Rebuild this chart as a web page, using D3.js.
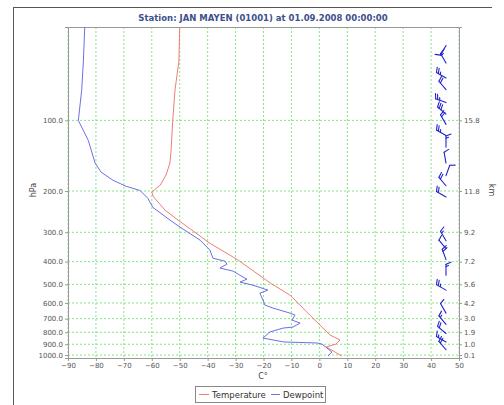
<!DOCTYPE html>
<html><head><meta charset="utf-8">
<script src="https://cdn.jsdelivr.net/npm/d3@7"></script>
<style>html,body{margin:0;padding:0;background:#fff;}svg{display:block;font-family:"DejaVu Sans",sans-serif;}</style>
</head><body>
<script>
const title = "Station: JAN MAYEN (01001) at 01.09.2008 00:00:00";
const pressureTicks = [100, 200, 300, 400, 500, 600, 700, 800, 900, 1000];
const heightLabels = ["15.8", "11.8", "9.2", "7.2", "5.6", "4.2", "3.0", "1.9", "1.0", "0.1"];
const tempTicks = [-90, -80, -70, -60, -50, -40, -30, -20, -10, 0, 10, 20, 30, 40, 50];

const tempP = [40, 56, 74.5, 100, 134, 152, 171, 189, 202, 211, 241, 266, 334, 394, 494, 556, 613, 676, 745, 822, 863, 898, 925, 962, 1010];
const tempT = [-50, -50.3, -51.7, -52.5, -53.1, -53.5, -54.9, -57, -60, -59.5, -55.3, -50.6, -39.2, -29.1, -17.5, -10.5, -6.9, -3.4, 0.2, 3.8, 7.4, 6, 2.5, 5, 8];

const dewP = [40, 56, 74.5, 100, 122, 152, 166, 180, 191, 199, 215, 235, 266, 285, 324, 357, 387, 398, 410, 426, 439, 452, 466, 475, 489, 504, 529, 545, 583, 613, 631, 663, 676, 710, 731, 760, 768, 798, 847, 880, 889, 898, 934, 971, 1010];
const dewT = [-84, -84.5, -85.1, -86.3, -82.7, -80.3, -78.2, -73.9, -69.2, -64.2, -61.4, -59.6, -53.5, -49.9, -42.7, -39.2, -38.1, -33.8, -33.1, -35.6, -30.9, -29.1, -27.3, -25.9, -28.4, -23.8, -18.4, -21.3, -20.2, -19.5, -16.6, -10.5, -8.7, -9.8, -6.9, -9.4, -13, -17.7, -20.2, -12.7, -0.8, 0.9, 2.7, 4.5, 3.1];

const windP = [48, 57, 66, 74, 84, 94, 104, 116, 130, 152, 172, 190, 212, 326, 352, 392, 457, 529, 663, 740, 810, 880, 950];
const windDir = [210, 330, 300, 320, 290, 310, 330, 300, 0, 350, 20, 320, 300, 330, 320, 340, 0, 300, 330, 320, 310, 300, 320];
const windSpd = [10, 15, 25, 20, 25, 30, 20, 25, 15, 10, 10, 20, 20, 15, 10, 20, 15, 25, 10, 15, 20, 15, 20];

const W = 504, H = 405;
const svg = d3.select("body").append("svg").attr("width", W).attr("height", H);

// outer frame
svg.append("line").attr("x1", 13.5).attr("x2", 13.5).attr("y1", 7).attr("y2", H).attr("stroke", "#555");
svg.append("line").attr("x1", 13).attr("x2", W - 12).attr("y1", 7.5).attr("y2", 7.5).attr("stroke", "#555");

const x = d3.scaleLinear().domain([-90, 50]).range([68, 459]);
const y = d3.scaleLog().domain([1030, 40]).range([358, 27]);

const L = 68, R = 459, T = 27, B = 358;

svg.append("text").attr("x", 263).attr("y", 21).attr("text-anchor", "middle")
  .attr("font-size", 8.5).attr("font-weight", "bold").attr("fill", "#3d4f8c").text(title);

svg.append("rect").attr("x", L).attr("y", T).attr("width", R - L).attr("height", B - T).attr("fill", "#fff");

// grid
const grid = svg.append("g").attr("stroke", "#66dd66").attr("stroke-width", 0.8).attr("stroke-dasharray", "2,2");
tempTicks.forEach(t => {
  grid.append("line").attr("x1", x(t)).attr("x2", x(t)).attr("y1", T).attr("y2", B);
});
pressureTicks.forEach(p => {
  grid.append("line").attr("x1", L).attr("x2", R).attr("y1", y(p)).attr("y2", y(p));
});

// axes
const axisStyle = g => {
  g.selectAll("path").attr("stroke", "#999");
  g.selectAll("line").attr("stroke", "#999");
  g.selectAll("text").attr("fill", "#555").attr("font-size", 7).attr("font-family", "DejaVu Sans, sans-serif");
};
svg.append("g").attr("transform", `translate(${L},0)`)
  .call(d3.axisLeft(y).tickValues(pressureTicks).tickFormat(d3.format(".1f")).tickSize(3).tickPadding(2))
  .call(axisStyle);
const hMap = new Map(pressureTicks.map((p, i) => [p, heightLabels[i]]));
svg.append("g").attr("transform", `translate(${R},0)`)
  .call(d3.axisRight(y).tickValues(pressureTicks).tickFormat(p => hMap.get(p)).tickSize(3).tickPadding(2))
  .call(axisStyle);
svg.append("g").attr("transform", `translate(0,${B})`)
  .call(d3.axisBottom(x).tickValues(tempTicks).tickFormat(d3.format("d")).tickSize(3).tickPadding(2))
  .call(axisStyle);
svg.append("line").attr("x1", L).attr("x2", R).attr("y1", T + 0.5).attr("y2", T + 0.5).attr("stroke", "#999");

// axis titles
svg.append("text").attr("transform", "translate(36,190) rotate(-90)").attr("text-anchor", "middle")
  .attr("font-size", 8).attr("fill", "#444").text("hPa");
svg.append("text").attr("transform", "translate(489,190) rotate(90)").attr("text-anchor", "middle")
  .attr("font-size", 8).attr("fill", "#444").text("km");
svg.append("text").attr("x", 263).attr("y", 379).attr("text-anchor", "middle")
  .attr("font-size", 8).attr("fill", "#444").text("C°");

// lines
const line = d3.line().x(d => x(d[1])).y(d => y(d[0]));
svg.append("clipPath").attr("id", "clip").append("rect").attr("x", L).attr("y", T).attr("width", R - L).attr("height", B - T);
svg.append("path").datum(tempP.map((p, i) => [p, tempT[i]])).attr("d", line)
  .attr("fill", "none").attr("stroke", "#f07d75").attr("stroke-width", 1).attr("clip-path", "url(#clip)");
svg.append("path").datum(dewP.map((p, i) => [p, dewT[i]])).attr("d", line)
  .attr("fill", "none").attr("stroke", "#6e6ee8").attr("stroke-width", 1).attr("clip-path", "url(#clip)");

// wind barbs
const xb = 446;
const barbs = svg.append("g").attr("stroke", "#2323cc").attr("stroke-width", 1.1).attr("fill", "#2323cc").attr("stroke-linecap", "round");
windP.forEach((p, i) => {
  const yb = y(p);
  const a = windDir[i] * Math.PI / 180;
  const staff = 11;
  const ux = Math.sin(a), uy = -Math.cos(a);
  const px = -uy, py = ux;
  const g = barbs.append("g");
  g.append("line").attr("x1", xb).attr("y1", yb).attr("x2", xb + ux * staff).attr("y2", yb + uy * staff);
  let spd = windSpd[i];
  let pos = staff;
  const fl = 5;
  while (spd >= 10) {
    const bx = xb + ux * pos, by = yb + uy * pos;
    g.append("line").attr("x1", bx).attr("y1", by)
      .attr("x2", bx + px * fl + ux * 2).attr("y2", by + py * fl + uy * 2);
    spd -= 10; pos -= 2.2;
  }
  if (spd >= 5) {
    if (pos === staff) pos -= 2.2;
    const bx = xb + ux * pos, by = yb + uy * pos;
    g.append("line").attr("x1", bx).attr("y1", by)
      .attr("x2", bx + px * fl / 2 + ux * 1).attr("y2", by + py * fl / 2 + uy * 1);
  }
});

// legend
const lg = svg.append("g");
lg.append("rect").attr("x", 195.5).attr("y", 386.5).attr("width", 130).attr("height", 16).attr("fill", "#fff").attr("stroke", "#888");
lg.append("line").attr("x1", 199).attr("x2", 209).attr("y1", 394.5).attr("y2", 394.5).attr("stroke", "#f07d75");
lg.append("text").attr("x", 212).attr("y", 398).attr("font-size", 8.5).attr("fill", "#333").text("Temperature");
lg.append("line").attr("x1", 271).attr("x2", 280).attr("y1", 394.5).attr("y2", 394.5).attr("stroke", "#6e6ee8");
lg.append("text").attr("x", 283).attr("y", 398).attr("font-size", 8.5).attr("fill", "#333").text("Dewpoint");
</script>
</body></html>
